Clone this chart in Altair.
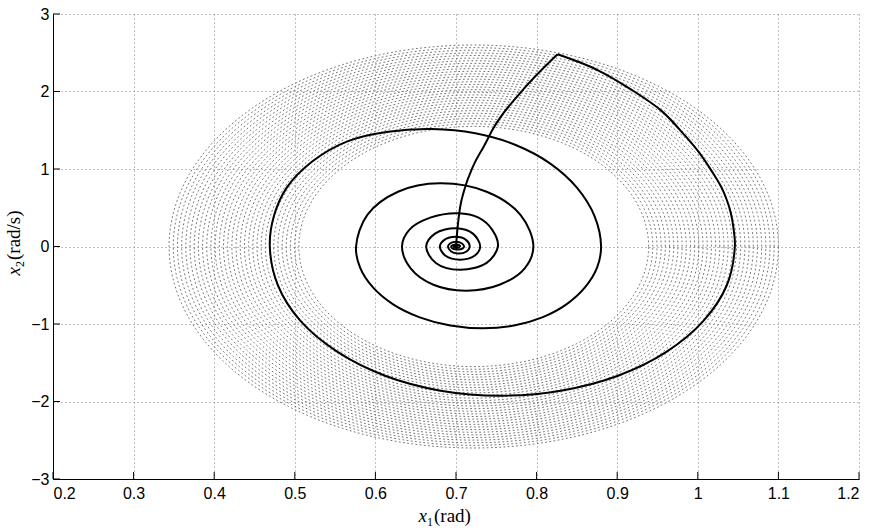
import numpy as np
import pandas as pd
import altair as alt

# Axis ticks
x_ticks = [0.2, 0.3, 0.4, 0.5, 0.6, 0.7, 0.8, 0.9, 1.0, 1.1, 1.2]
y_ticks = [-3, -2, -1, 0, 1, 2, 3]

# Trajectory, first part: coarse steps away from the equilibrium
swing_x1 = [0.700, 0.702, 0.705, 0.710, 0.721, 0.735, 0.746, 0.783, 0.826]
swing_x2 = [0.00, 0.25, 0.50, 0.72, 1.03, 1.30, 1.52, 2.02, 2.48]

# Trajectory, second part: damped oscillation spiralling into (0.7, 0)
spiral_x1 = [
    0.826, 0.875, 0.918, 0.955, 0.985, 1.004, 1.019, 1.029, 1.036, 1.041, 1.044, 1.046,
    1.036, 1.007, 0.961, 0.901, 0.830, 0.755,
    0.681, 0.612, 0.553, 0.507, 0.479, 0.469,
    0.474, 0.490, 0.522, 0.566, 0.616, 0.670,
    0.724, 0.774, 0.817, 0.850, 0.872, 0.880,
    0.875, 0.860, 0.837, 0.807, 0.772, 0.734,
    0.693, 0.655, 0.622, 0.597, 0.581, 0.576,
    0.590, 0.628, 0.680,
    0.738, 0.780, 0.796,
    0.785, 0.754, 0.712,
    0.672, 0.644, 0.633,
    0.642, 0.668, 0.703,
    0.728, 0.745, 0.752,
    0.738, 0.705,
    0.675, 0.663,
    0.674, 0.700,
    0.721, 0.730,
    0.723, 0.705,
    0.687, 0.680,
    0.686, 0.700,
    0.712, 0.717,
    0.713, 0.702,
    0.694, 0.690,
    0.693, 0.700,
    0.707, 0.710,
    0.708, 0.702,
    0.696, 0.694,
    0.696, 0.700,
    0.704, 0.705,
    0.701, 0.697, 0.700, 0.702,
]
spiral_x2 = [
    2.48, 2.28, 2.02, 1.75, 1.42, 1.18, 0.945, 0.77, 0.60, 0.43, 0.255, 0.00,
    -0.50, -0.96, -1.36, -1.667, -1.86, -1.925,
    -1.86, -1.667, -1.36, -0.96, -0.50, 0.00,
    0.39, 0.76, 1.10, 1.36, 1.48, 1.515,
    1.46, 1.31, 1.07, 0.76, 0.39, 0.00,
    -0.273, -0.528, -0.746, -0.914, -1.019, -1.055,
    -1.019, -0.914, -0.746, -0.528, -0.273, 0.00,
    0.408, 0.706, 0.815,
    0.706, 0.408, 0.00,
    -0.285, -0.494, -0.57,
    -0.494, -0.285, 0.00,
    0.215, 0.372, 0.43,
    0.372, 0.215, 0.00,
    -0.212, -0.30,
    -0.212, 0.00,
    0.166, 0.235,
    0.166, 0.00,
    -0.12, -0.17,
    -0.12, 0.00,
    0.089, 0.126,
    0.089, 0.00,
    -0.064, -0.09,
    -0.064, 0.00,
    0.042, 0.06,
    0.042, 0.00,
    -0.028, -0.04,
    -0.028, 0.00,
    0.018, 0.025,
    0.018, 0.00,
    -0.014, 0.00, 0.008, 0.00,
]

# Band of closed (undamped) orbits around the equilibrium
band_center = [0.722, 0.0]
band_inner = [0.217, 1.55]   # semi-axes (x1, x2) of the innermost orbit
band_outer = [0.378, 2.60]   # semi-axes (x1, x2) of the outermost orbit
band_orbits = 32

swing = pd.DataFrame({"x1": swing_x1, "x2": swing_x2, "k": range(len(swing_x1))})
spiral = pd.DataFrame({"x1": spiral_x1, "x2": spiral_x2, "k": range(len(spiral_x1))})

phase = np.linspace(0.0, 2.0 * np.pi, 241)
orbit_rows = []
for j in range(band_orbits):
    f = j / (band_orbits - 1)
    a = band_inner[0] + f * (band_outer[0] - band_inner[0])
    b = band_inner[1] + f * (band_outer[1] - band_inner[1])
    for i, p in enumerate(phase):
        orbit_rows.append({"orbit": j, "k": i,
                           "x1": band_center[0] + a * np.cos(p),
                           "x2": band_center[1] + b * np.sin(p)})
orbits = pd.DataFrame(orbit_rows)

W, H = 806, 465
xs = alt.Scale(domain=[0.2, 1.2], nice=False, zero=False)
ys = alt.Scale(domain=[-3, 3], nice=False, zero=False)

grid_style = dict(grid=True, gridColor="#808080", gridDash=[1, 3], gridWidth=1,
                  ticks=False, tickSize=0, domainColor="#000000", domainWidth=1,
                  labelFont="Liberation Sans", labelFontSize=16, labelColor="#000000",
                  format="~g", title=None)
x_axis = alt.Axis(values=x_ticks, labelPadding=6, **grid_style)
y_axis = alt.Axis(values=y_ticks, labelPadding=4, **grid_style)

X = alt.X("x1:Q", scale=xs, axis=x_axis)
Y = alt.Y("x2:Q", scale=ys, axis=y_axis)

orbit_layer = alt.Chart(orbits).mark_line(
    stroke="#646464", strokeWidth=0.9, strokeDash=[1.8, 2.4], clip=True
).encode(x=X, y=Y, detail="orbit:N", order="k:Q")

swing_layer = alt.Chart(swing).mark_line(
    stroke="#000000", strokeWidth=2, interpolate="monotone"
).encode(x=X, y=Y, order="k:Q")

spiral_layer = alt.Chart(spiral).mark_line(
    stroke="#000000", strokeWidth=2, interpolate="catmull-rom"
).encode(x=X, y=Y, order="k:Q")

# Inward-pointing tick marks on the left and bottom axes
xtick_layer = alt.Chart(pd.DataFrame({"x1": x_ticks})).mark_rule(
    color="#000000", strokeWidth=1
).encode(x=X, y=alt.value(H), y2=alt.value(H - 7))
ytick_layer = alt.Chart(pd.DataFrame({"x2": y_ticks})).mark_rule(
    color="#000000", strokeWidth=1
).encode(y=Y, x=alt.value(0), x2=alt.value(7))

one = pd.DataFrame({"d": [0]})
serif = "Liberation Serif"


def label_part(text, x, y, align, size, italic=False, angle=0, dx=0, dy=0):
    kw = dict(text=text, align=align, baseline="alphabetic", font=serif,
              fontSize=size, color="#000000", angle=angle, dx=dx, dy=dy)
    if italic:
        kw["fontStyle"] = "italic"
    return alt.Chart(one).mark_text(**kw).encode(x=alt.value(x), y=alt.value(y))


# x-axis title: x_1(rad)
xt = (374, 508)
xtitle = (label_part("x", xt[0], xt[1], "right", 19, italic=True)
          + label_part("1", xt[0], xt[1], "left", 12, dy=4)
          + label_part("(rad)", xt[0], xt[1], "left", 19, dx=7))

# y-axis title: x_2(rad/s), rotated
yt = (-33, 253)
ytitle = (label_part("x", yt[0], yt[1], "right", 19, italic=True, angle=270)
          + label_part("2", yt[0], yt[1], "left", 12, angle=270, dy=4)
          + label_part("(rad/s)", yt[0], yt[1], "left", 19, angle=270, dx=7))

chart = alt.layer(
    orbit_layer, swing_layer, spiral_layer, xtick_layer, ytick_layer, xtitle, ytitle
).properties(
    width=W, height=H,
    autosize=alt.AutoSizeParams(type="none"),
    padding={"left": 53, "top": 14, "right": 19, "bottom": 52},
    background="white",
).configure_view(stroke=None)

chart.save("out.html", embed_options={"renderer": "svg", "actions": False})
